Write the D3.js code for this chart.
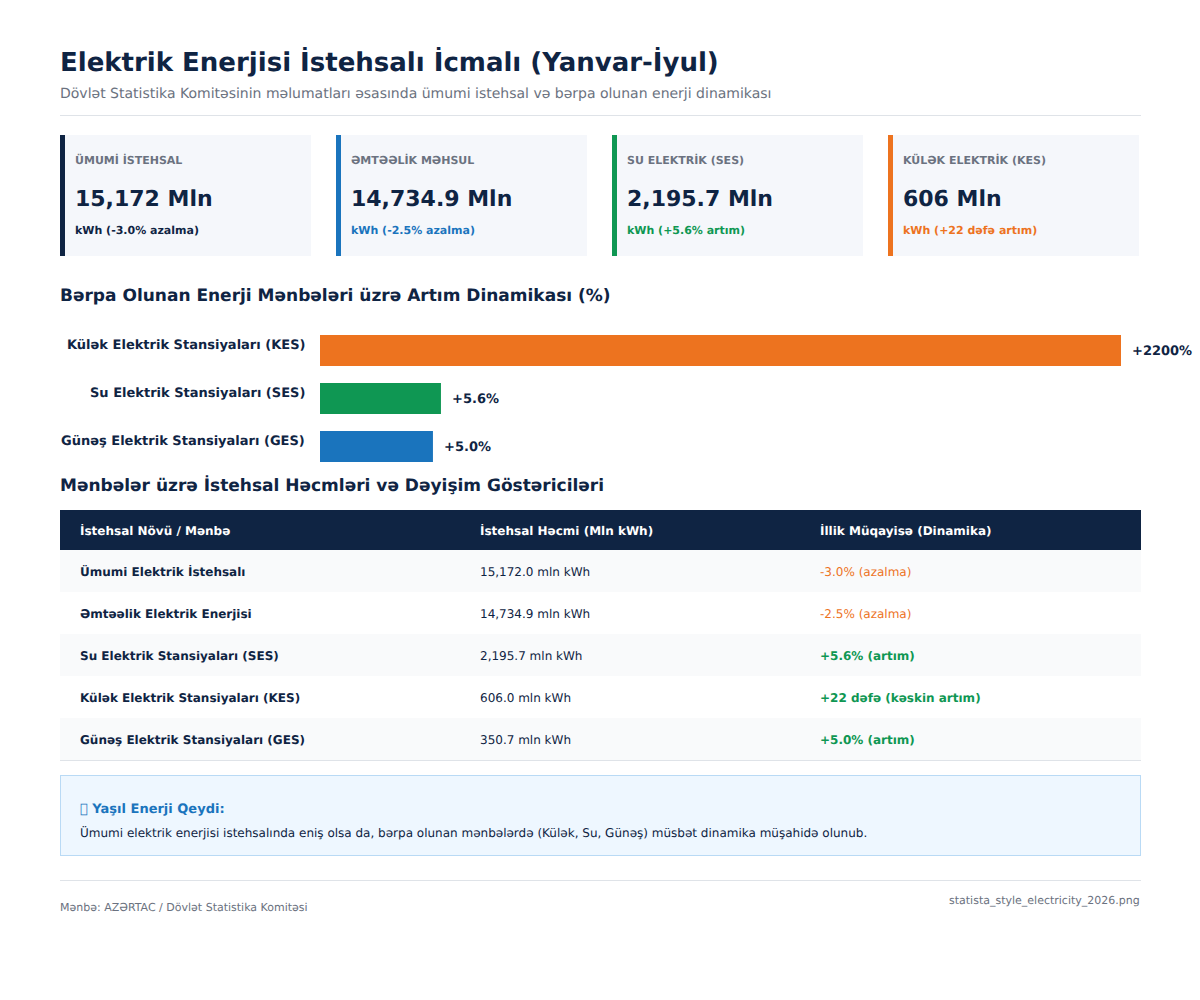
<!DOCTYPE html>
<html>
<head>
<meta charset="utf-8">
<script src="https://cdn.jsdelivr.net/npm/d3@7"></script>
<style>
  html, body { margin: 0; padding: 0; background: #fff; }
  #chart { position: relative; width: 1200px; height: 1000px; overflow: hidden; font-family: "DejaVu Sans", sans-serif; }
  svg { display: block; position: absolute; left: 0; top: 0; }
  /* tiny rotation switches glyph hinting off, the reference text is unhinted */
  .label { position: absolute; white-space: nowrap; text-rendering: geometricPrecision; transform: rotate(0.001deg); }
</style>
</head>
<body>
<div id="chart"></div>
<script>
const navy = '#0f2443';
const grey = '#6b7280';
const orange = '#ed731f';
const green = '#0f9753';
const blue = '#1a74bd';
const rule = '#dfe3e8';

// Data - summary cards
const card_labels = ['ÜMUMİ İSTEHSAL', 'ƏMTƏƏLİK MƏHSUL', 'SU ELEKTRİK (SES)', 'KÜLƏK ELEKTRİK (KES)'];
const card_values = ['15,172 Mln', '14,734.9 Mln', '2,195.7 Mln', '606 Mln'];
const card_notes = ['kWh (-3.0% azalma)', 'kWh (-2.5% azalma)', 'kWh (+5.6% artım)', 'kWh (+22 dəfə artım)'];
const card_colors = [navy, blue, green, orange];

// Data - growth bars. Bar lengths in the picture are not proportional to the labels
const bar_names = ['Külək Elektrik Stansiyaları (KES)', 'Su Elektrik Stansiyaları (SES)', 'Günəş Elektrik Stansiyaları (GES)'];
const bar_labels = ['+2200%', '+5.6%', '+5.0%'];
const bar_shares = [100, 15.1, 14.1];
const bar_colors = [orange, green, blue];

// Data - table
const table_head = ['İstehsal Növü / Mənbə', 'İstehsal Həcmi (Mln kWh)', 'İllik Müqayisə (Dinamika)'];
const table_names = ['Ümumi Elektrik İstehsalı', 'Əmtəəlik Elektrik Enerjisi', 'Su Elektrik Stansiyaları (SES)', 'Külək Elektrik Stansiyaları (KES)', 'Günəş Elektrik Stansiyaları (GES)'];
const table_volumes = ['15,172.0 mln kWh', '14,734.9 mln kWh', '2,195.7 mln kWh', '606.0 mln kWh', '350.7 mln kWh'];
const table_changes = ['-3.0% (azalma)', '-2.5% (azalma)', '+5.6% (artım)', '+22 dəfə (kəskin artım)', '+5.0% (artım)'];

const chart = d3.select('#chart');
const svg = chart.append('svg')
  .attr('width', 1200)
  .attr('height', 1000);

// y is the baseline
function add_text(x, y, str, size, weight, color, anchor) {
  const ascent = Math.round(size * 0.928);
  const descent = Math.round(size * 0.236);
  const label = chart.append('div')
    .attr('class', 'label')
    .style('top', (y - ascent) + 'px')
    .style('line-height', (ascent + descent) + 'px')
    .style('font-size', size + 'px')
    .style('font-weight', weight)
    .style('color', color)
    .text(str);
  if (anchor === 'end') {
    label.style('right', (1200 - x) + 'px');
  } else {
    label.style('left', x + 'px');
  }
  return label;
}

// Header
add_text(60, 72, 'Elektrik Enerjisi İstehsalı İcmalı (Yanvar-İyul)', 26, 'bold', navy);
add_text(60, 99, 'Dövlət Statistika Komitəsinin məlumatları əsasında ümumi istehsal və bərpa olunan enerji dinamikası', 14, 'normal', grey);
svg.append('rect').attr('x', 60).attr('y', 115).attr('width', 1081).attr('height', 1).attr('fill', rule);

// Cards
let x_scale_cards = d3.scaleBand()
  .domain(d3.range(card_labels.length))
  .range([60, 1164])
  .paddingInner(0);

let cards = svg.selectAll('.card')
  .data(card_labels)
  .join('g')
    .attr('class', 'card')
    .attr('transform', (d, i) => 'translate(' + x_scale_cards(i) + ',135)');
cards.append('rect').attr('width', 251).attr('height', 121).attr('fill', '#f5f7fb');
cards.append('rect').attr('width', 5).attr('height', 121).attr('fill', (d, i) => card_colors[i]);
card_labels.forEach((d, i) => {
  const x = x_scale_cards(i) + 15;
  add_text(x, 164, d, 11, 'bold', grey);
  add_text(x, 207, card_values[i], 22, 'bold', navy);
  add_text(x, 234, card_notes[i], 11, 'bold', card_colors[i]);
});

// Growth bars
add_text(60, 302, 'Bərpa Olunan Enerji Mənbələri üzrə Artım Dinamikası (%)', 17, 'bold', navy);

let x_scale_bars = d3.scaleLinear()
  .domain([0, 100])
  .range([320, 1121]);
let y_scale_bars = d3.scaleBand()
  .domain(bar_names)
  .range([335, 479])
  .paddingInner(0);
const bar_height = 31;

svg.selectAll('.bar')
  .data(bar_shares)
  .join('rect')
    .attr('class', 'bar')
    .attr('x', x_scale_bars(0))
    .attr('y', (d, i) => y_scale_bars(bar_names[i]))
    .attr('width', d => x_scale_bars(d) - x_scale_bars(0))
    .attr('height', bar_height)
    .attr('fill', (d, i) => bar_colors[i]);
bar_names.forEach((d, i) => {
  add_text(305, y_scale_bars(d) + 15, d, 13, 'bold', navy, 'end');
  add_text(Math.round(x_scale_bars(bar_shares[i])) + 11, y_scale_bars(d) + 21, bar_labels[i], 13, 'bold', navy);
});

// Table
add_text(60, 492, 'Mənbələr üzrə İstehsal Həcmləri və Dəyişim Göstəriciləri', 17, 'bold', navy);

const col_x = [80, 480, 820];
svg.append('rect').attr('x', 60).attr('y', 510).attr('width', 1081).attr('height', 40).attr('fill', navy);
table_head.forEach((d, i) => add_text(col_x[i], 535, d, 12, 'bold', '#fff'));

let y_scale_rows = d3.scaleBand()
  .domain(table_names)
  .range([550, 760]);

svg.selectAll('.row')
  .data(table_names)
  .join('rect')
    .attr('class', 'row')
    .attr('x', 60)
    .attr('y', d => y_scale_rows(d))
    .attr('width', 1081)
    .attr('height', y_scale_rows.bandwidth())
    .attr('fill', (d, i) => i % 2 === 0 ? '#f9fafb' : '#fff');
table_names.forEach((d, i) => {
  const y = y_scale_rows(d) + 26;
  const is_up = table_changes[i][0] === '+';
  add_text(col_x[0], y, d, 12, 'bold', navy);
  add_text(col_x[1], y, table_volumes[i], 12, 'normal', navy);
  add_text(col_x[2], y, table_changes[i], 12, is_up ? 'bold' : 'normal', is_up ? green : orange);
});
svg.append('rect').attr('x', 60).attr('y', 760).attr('width', 1081).attr('height', 1).attr('fill', rule);

// Note
svg.append('rect')
  .attr('x', 60.5).attr('y', 775.5).attr('width', 1080).attr('height', 80)
  .attr('fill', '#eef7ff').attr('stroke', '#b9daf5');
add_text(80, 814, '\uE000 Yaşıl Enerji Qeydi:', 13, 'bold', blue);
add_text(80, 837, 'Ümumi elektrik enerjisi istehsalında eniş olsa da, bərpa olunan mənbələrdə (Külək, Su, Günəş) müsbət dinamika müşahidə olunub.', 12, 'normal', navy);

// Footer
svg.append('rect').attr('x', 60).attr('y', 880).attr('width', 1081).attr('height', 1).attr('fill', rule);
add_text(60, 911, 'Mənbə: AZƏRTAC / Dövlət Statistika Komitəsi', 11, 'normal', grey);
add_text(1140, 904, 'statista_style_electricity_2026.png', 11, 'normal', grey, 'end');
</script>
</body>
</html>
